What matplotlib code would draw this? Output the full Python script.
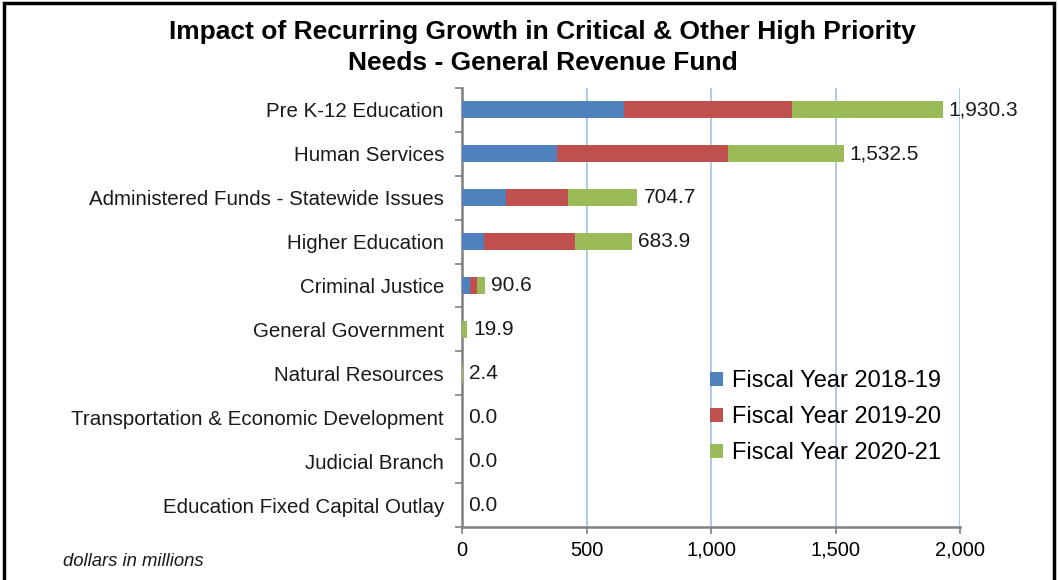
import matplotlib.pyplot as plt
from matplotlib.patches import Rectangle
import numpy as np

plt.rcParams['font.family'] = ['Liberation Sans', 'DejaVu Sans']

categories = ['Pre K-12 Education', 'Human Services', 'Administered Funds - Statewide Issues',
              'Higher Education', 'Criminal Justice', 'General Government', 'Natural Resources',
              'Transportation & Economic Development', 'Judicial Branch',
              'Education Fixed Capital Outlay']
fy_2018_19 = [650, 380, 176, 89, 31, 0, 0, 0, 0, 0]
fy_2019_20 = [674, 687, 248, 364, 31, 0, 0, 0, 0, 0]
fy_2020_21 = [606.3, 465.5, 280.7, 230.9, 28.6, 19.9, 2.4, 0, 0, 0]
series_names = ['Fiscal Year 2018-19', 'Fiscal Year 2019-20', 'Fiscal Year 2020-21']
colors = ['#4F81BD', '#C0504D', '#9BBB59']
xticks = [0, 500, 1000, 1500, 2000]
xtick_labels = ['0', '500', '1,000', '1,500', '2,000']

fig = plt.figure(figsize=(10.58, 5.8), dpi=100)
ax = fig.add_axes([0.4367, 0.0914, 0.4707, 0.7569])

y = np.arange(len(categories))
left = np.zeros(len(categories))
for vals, name, c in zip([fy_2018_19, fy_2019_20, fy_2020_21], series_names, colors):
    ax.barh(y, vals, left=left, height=0.39, color=c, label=name, zorder=3)
    left = left + np.array(vals)

for yi, tot in zip(y, left):
    ax.text(tot + 24, yi, f'{tot:,.1f}', va='center', ha='left', fontsize=15, color='#1a1a1a')

ax.set_xlim(0, 2000)
ax.set_ylim(len(categories) - 0.5, -0.5)
ax.set_xticks(xticks)
ax.set_xticklabels(xtick_labels, fontsize=14.5)
ax.set_yticks(y)
ax.set_yticklabels(categories, fontsize=14.8, color='#1a1a1a')
ax.set_yticks(np.arange(-0.5, len(categories), 1), minor=True)
ax.tick_params(axis='y', which='major', length=0, pad=13)
ax.tick_params(axis='y', which='minor', length=5, color='#808080', width=1.2)
ax.tick_params(axis='x', length=5, color='#808080', width=1.2, pad=5)

ax.grid(axis='x', color='#ABC4E8', linewidth=1.3, zorder=0)
for s in ['top', 'right']:
    ax.spines[s].set_visible(False)
for s in ['left', 'bottom']:
    ax.spines[s].set_color('#808080')
    ax.spines[s].set_linewidth(1.8)

ax.legend(loc='lower right', bbox_to_anchor=(1.005, 0.094), frameon=False, fontsize=17,
          handlelength=0.55, handleheight=0.55, handletextpad=0.4, labelspacing=0.6)

fig.text(0.513, 0.918, 'Impact of Recurring Growth in Critical & Other High Priority\nNeeds - General Revenue Fund',
         ha='center', va='center', fontsize=19, fontweight='bold', linespacing=1.35)
fig.text(0.06, 0.025, 'dollars in millions', fontsize=13.3, style='italic', color='#1a1a1a')

fig.patches.append(Rectangle((0.004, -0.05), 0.992, 1.045, transform=fig.transFigure,
                             fill=False, edgecolor='black', linewidth=2.5))

fig.savefig('out.png', dpi=100)
